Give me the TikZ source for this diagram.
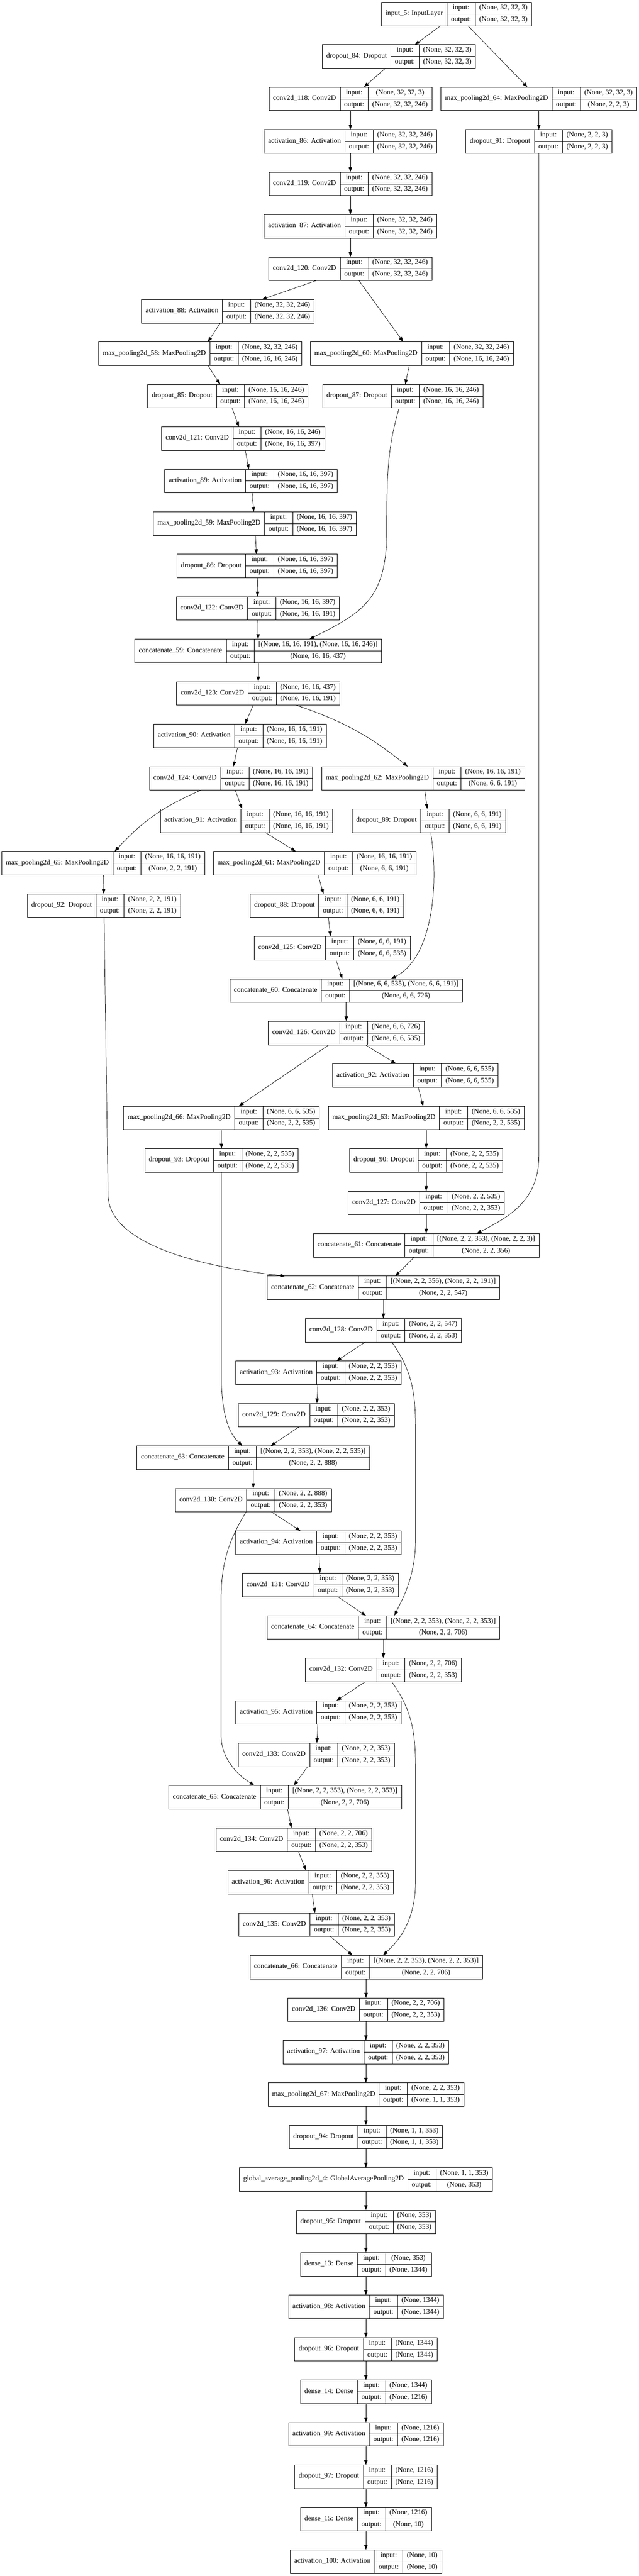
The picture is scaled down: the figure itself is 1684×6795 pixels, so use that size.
\documentclass[tikz,border=0pt]{standalone}
\usepackage{fontspec}
\setmainfont{Liberation Serif}
\usetikzlibrary{arrows.meta}

\newbox\namebox
\newbox\labelbox
\newbox\inbox
\newbox\outbox
\newcommand\recfont{\fontsize{18.67pt}{22.4pt}\selectfont}
% one Keras layer: name, x, row, label, input shape, output shape
\newcommand\layer[6]{%
  \pgfinterruptpicture
    \global\setbox\namebox=\hbox{\recfont #4}%
    \global\setbox\labelbox=\hbox{\recfont output:}%
    \global\setbox\inbox=\hbox{\recfont #5}%
    \global\setbox\outbox=\hbox{\recfont #6}%
  \endpgfinterruptpicture
  \edef\nw{\the\dimexpr\wd\namebox+21.33pt\relax}%
  \edef\lw{\the\dimexpr\wd\labelbox+21.33pt\relax}%
  \ifdim\wd\inbox>\wd\outbox
    \edef\sw{\the\dimexpr\wd\inbox+21.33pt\relax}%
  \else
    \edef\sw{\the\dimexpr\wd\outbox+21.33pt\relax}%
  \fi
  \node[record, minimum width=\nw+\lw+\sw] (#1) at (#2,{-37-112*#3}) {};
  \draw[divider] ([xshift=\nw]#1.north west) -- ([xshift=\nw]#1.south west)
    ([xshift=\nw+\lw]#1.north west) -- ([xshift=\nw+\lw]#1.south west)
    ([xshift=\nw]#1.west) -- (#1.east);
  \node[celltext] at ([xshift=0.5*\nw]#1.west) {#4};
  \node[celltext] at ([xshift=\nw+0.5*\lw, yshift=15.5]#1.west) {input:};
  \node[celltext] at ([xshift=\nw+0.5*\lw, yshift=-15.5]#1.west) {output:};
  \node[celltext] at ([xshift=\nw+\lw+0.5*\sw, yshift=15.5]#1.west) {#5};
  \node[celltext] at ([xshift=\nw+\lw+0.5*\sw, yshift=-15.5]#1.west) {#6};
}

\begin{document}
\begin{tikzpicture}[x=1pt, y=1pt,
  record/.style={draw, line width=1pt, minimum height=62pt, inner sep=0pt, outer sep=0pt},
  divider/.style={line width=1pt},
  celltext/.style={font=\recfont, inner sep=0pt, text height=12pt, text depth=5pt},
  flow/.style={line width=1pt, -{Triangle[length=13pt, width=9pt]}}]
\useasboundingbox (0,0) rectangle (1684,-6795);

\layer{in5}{1204}{0}{input\_5: InputLayer}{(None, 32, 32, 3)}{(None, 32, 32, 3)}
\layer{do84}{1052}{1}{dropout\_84: Dropout}{(None, 32, 32, 3)}{(None, 32, 32, 3)}
\layer{c118}{924}{2}{conv2d\_118: Conv2D}{(None, 32, 32, 3)}{(None, 32, 32, 246)}
\layer{mp64}{1421}{2}{max\_pooling2d\_64: MaxPooling2D}{(None, 32, 32, 3)}{(None, 2, 2, 3)}
\layer{a86}{924}{3}{activation\_86: Activation}{(None, 32, 32, 246)}{(None, 32, 32, 246)}
\layer{do91}{1421}{3}{dropout\_91: Dropout}{(None, 2, 2, 3)}{(None, 2, 2, 3)}
\layer{c119}{924}{4}{conv2d\_119: Conv2D}{(None, 32, 32, 246)}{(None, 32, 32, 246)}
\layer{a87}{924}{5}{activation\_87: Activation}{(None, 32, 32, 246)}{(None, 32, 32, 246)}
\layer{c120}{924}{6}{conv2d\_120: Conv2D}{(None, 32, 32, 246)}{(None, 32, 32, 246)}
\layer{a88}{601}{7}{activation\_88: Activation}{(None, 32, 32, 246)}{(None, 32, 32, 246)}
\layer{mp58}{528}{8}{max\_pooling2d\_58: MaxPooling2D}{(None, 32, 32, 246)}{(None, 16, 16, 246)}
\layer{mp60}{1086}{8}{max\_pooling2d\_60: MaxPooling2D}{(None, 32, 32, 246)}{(None, 16, 16, 246)}
\layer{do85}{601}{9}{dropout\_85: Dropout}{(None, 16, 16, 246)}{(None, 16, 16, 246)}
\layer{do87}{1062}{9}{dropout\_87: Dropout}{(None, 16, 16, 246)}{(None, 16, 16, 246)}
\layer{c121}{641}{10}{conv2d\_121: Conv2D}{(None, 16, 16, 246)}{(None, 16, 16, 397)}
\layer{a89}{662}{11}{activation\_89: Activation}{(None, 16, 16, 397)}{(None, 16, 16, 397)}
\layer{mp59}{672}{12}{max\_pooling2d\_59: MaxPooling2D}{(None, 16, 16, 397)}{(None, 16, 16, 397)}
\layer{do86}{678}{13}{dropout\_86: Dropout}{(None, 16, 16, 397)}{(None, 16, 16, 397)}
\layer{c122}{680}{14}{conv2d\_122: Conv2D}{(None, 16, 16, 397)}{(None, 16, 16, 191)}
\layer{cat59}{681}{15}{concatenate\_59: Concatenate}{[(None, 16, 16, 191), (None, 16, 16, 246)]}{(None, 16, 16, 437)}
\layer{c123}{681}{16}{conv2d\_123: Conv2D}{(None, 16, 16, 437)}{(None, 16, 16, 191)}
\layer{a90}{633}{17}{activation\_90: Activation}{(None, 16, 16, 191)}{(None, 16, 16, 191)}
\layer{c124}{609}{18}{conv2d\_124: Conv2D}{(None, 16, 16, 191)}{(None, 16, 16, 191)}
\layer{mp62}{1116}{18}{max\_pooling2d\_62: MaxPooling2D}{(None, 16, 16, 191)}{(None, 6, 6, 191)}
\layer{a91}{650}{19}{activation\_91: Activation}{(None, 16, 16, 191)}{(None, 16, 16, 191)}
\layer{do89}{1131}{19}{dropout\_89: Dropout}{(None, 6, 6, 191)}{(None, 6, 6, 191)}
\layer{mp65}{272}{20}{max\_pooling2d\_65: MaxPooling2D}{(None, 16, 16, 191)}{(None, 2, 2, 191)}
\layer{mp61}{830}{20}{max\_pooling2d\_61: MaxPooling2D}{(None, 16, 16, 191)}{(None, 6, 6, 191)}
\layer{do92}{274}{21}{dropout\_92: Dropout}{(None, 2, 2, 191)}{(None, 2, 2, 191)}
\layer{do88}{862}{21}{dropout\_88: Dropout}{(None, 6, 6, 191)}{(None, 6, 6, 191)}
\layer{c125}{876}{22}{conv2d\_125: Conv2D}{(None, 6, 6, 191)}{(None, 6, 6, 535)}
\layer{cat60}{913}{23}{concatenate\_60: Concatenate}{[(None, 6, 6, 535), (None, 6, 6, 191)]}{(None, 6, 6, 726)}
\layer{c126}{913}{24}{conv2d\_126: Conv2D}{(None, 6, 6, 726)}{(None, 6, 6, 535)}
\layer{a92}{1095}{25}{activation\_92: Activation}{(None, 6, 6, 535)}{(None, 6, 6, 535)}
\layer{mp66}{584}{26}{max\_pooling2d\_66: MaxPooling2D}{(None, 6, 6, 535)}{(None, 2, 2, 535)}
\layer{mp63}{1124}{26}{max\_pooling2d\_63: MaxPooling2D}{(None, 6, 6, 535)}{(None, 2, 2, 535)}
\layer{do93}{584}{27}{dropout\_93: Dropout}{(None, 2, 2, 535)}{(None, 2, 2, 535)}
\layer{do90}{1124}{27}{dropout\_90: Dropout}{(None, 2, 2, 535)}{(None, 2, 2, 535)}
\layer{c127}{1124}{28}{conv2d\_127: Conv2D}{(None, 2, 2, 535)}{(None, 2, 2, 353)}
\layer{cat61}{1124}{29}{concatenate\_61: Concatenate}{[(None, 2, 2, 353), (None, 2, 2, 3)]}{(None, 2, 2, 356)}
\layer{cat62}{1011}{30}{concatenate\_62: Concatenate}{[(None, 2, 2, 356), (None, 2, 2, 191)]}{(None, 2, 2, 547)}
\layer{c128}{1011}{31}{conv2d\_128: Conv2D}{(None, 2, 2, 547)}{(None, 2, 2, 353)}
\layer{a93}{840}{32}{activation\_93: Activation}{(None, 2, 2, 353)}{(None, 2, 2, 353)}
\layer{c129}{834}{33}{conv2d\_129: Conv2D}{(None, 2, 2, 353)}{(None, 2, 2, 353)}
\layer{cat63}{668}{34}{concatenate\_63: Concatenate}{[(None, 2, 2, 353), (None, 2, 2, 535)]}{(None, 2, 2, 888)}
\layer{c130}{668}{35}{conv2d\_130: Conv2D}{(None, 2, 2, 888)}{(None, 2, 2, 353)}
\layer{a94}{840}{36}{activation\_94: Activation}{(None, 2, 2, 353)}{(None, 2, 2, 353)}
\layer{c131}{845}{37}{conv2d\_131: Conv2D}{(None, 2, 2, 353)}{(None, 2, 2, 353)}
\layer{cat64}{1011}{38}{concatenate\_64: Concatenate}{[(None, 2, 2, 353), (None, 2, 2, 353)]}{(None, 2, 2, 706)}
\layer{c132}{1011}{39}{conv2d\_132: Conv2D}{(None, 2, 2, 706)}{(None, 2, 2, 353)}
\layer{a95}{840}{40}{activation\_95: Activation}{(None, 2, 2, 353)}{(None, 2, 2, 353)}
\layer{c133}{834}{41}{conv2d\_133: Conv2D}{(None, 2, 2, 353)}{(None, 2, 2, 353)}
\layer{cat65}{752}{42}{concatenate\_65: Concatenate}{[(None, 2, 2, 353), (None, 2, 2, 353)]}{(None, 2, 2, 706)}
\layer{c134}{775}{43}{conv2d\_134: Conv2D}{(None, 2, 2, 706)}{(None, 2, 2, 353)}
\layer{a96}{819}{44}{activation\_96: Activation}{(None, 2, 2, 353)}{(None, 2, 2, 353)}
\layer{c135}{835}{45}{conv2d\_135: Conv2D}{(None, 2, 2, 353)}{(None, 2, 2, 353)}
\layer{cat66}{966}{46}{concatenate\_66: Concatenate}{[(None, 2, 2, 353), (None, 2, 2, 353)]}{(None, 2, 2, 706)}
\layer{c136}{965}{47}{conv2d\_136: Conv2D}{(None, 2, 2, 706)}{(None, 2, 2, 353)}
\layer{a97}{965}{48}{activation\_97: Activation}{(None, 2, 2, 353)}{(None, 2, 2, 353)}
\layer{mp67}{965}{49}{max\_pooling2d\_67: MaxPooling2D}{(None, 2, 2, 353)}{(None, 1, 1, 353)}
\layer{do94}{965}{50}{dropout\_94: Dropout}{(None, 1, 1, 353)}{(None, 1, 1, 353)}
\layer{gap4}{965}{51}{global\_average\_pooling2d\_4: GlobalAveragePooling2D}{(None, 1, 1, 353)}{(None, 353)}
\layer{do95}{965}{52}{dropout\_95: Dropout}{(None, 353)}{(None, 353)}
\layer{d13}{965}{53}{dense\_13: Dense}{(None, 353)}{(None, 1344)}
\layer{a98}{965}{54}{activation\_98: Activation}{(None, 1344)}{(None, 1344)}
\layer{do96}{965}{55}{dropout\_96: Dropout}{(None, 1344)}{(None, 1344)}
\layer{d14}{965}{56}{dense\_14: Dense}{(None, 1344)}{(None, 1216)}
\layer{a99}{965}{57}{activation\_99: Activation}{(None, 1216)}{(None, 1216)}
\layer{do97}{965}{58}{dropout\_97: Dropout}{(None, 1216)}{(None, 1216)}
\layer{d15}{965}{59}{dense\_15: Dense}{(None, 1216)}{(None, 10)}
\layer{a100}{965}{60}{activation\_100: Activation}{(None, 10)}{(None, 10)}

\foreach \a/\b in {in5/do84, in5/mp64, do84/c118, c118/a86, a86/c119, c119/a87,
    a87/c120, mp64/do91, c120/a88, c120/mp60, a88/mp58, mp58/do85, do85/c121,
    c121/a89, a89/mp59, mp59/do86, do86/c122, c122/cat59, mp60/do87, cat59/c123,
    c123/a90, a90/c124, c124/a91, a91/mp61, mp61/do88, do88/c125, c125/cat60,
    mp62/do89, mp65/do92, cat60/c126, c126/mp66, c126/a92, a92/mp63, mp63/do90,
    do90/c127, c127/cat61, mp66/do93, cat61/cat62, cat62/c128, c128/a93, a93/c129,
    c129/cat63, cat63/c130, c130/a94, a94/c131, c131/cat64, cat64/c132, c132/a95,
    a95/c133, c133/cat65, cat65/c134, c134/a96, a96/c135, c135/cat66, cat66/c136,
    c136/a97, a97/mp67, mp67/do94, do94/gap4, gap4/do95, do95/d13, d13/a98,
    a98/do96, do96/d14, d14/a99, a99/do97, do97/d15, d15/a100}
  \draw[flow] (\a) -- (\b);

\draw[flow] (c123) to[bend left=10] (mp62);
\draw[flow] (c124) to[bend right=12] (mp65);
\draw[flow] (do87) .. controls (1022,-1180) and (1020,-1250) .. (1020,-1400)
  .. controls (1020,-1580) and (956,-1616) .. ([xshift=135]cat59.north);
\draw[flow] (do89) .. controls (1160,-2350) and (1135,-2530) .. ([xshift=118]cat60.north);
\draw[flow] (do91) -- (1421,-3050) .. controls (1421,-3170) and (1337,-3212) .. ([xshift=133]cat61.north);
\draw[flow] (do92) -- (285,-3150) .. controls (285,-3290) and (560,-3345) .. ([xshift=-259]cat62.north);
\draw[flow] (do93) -- (584,-3650) .. controls (588,-3760) and (615,-3790) .. ([xshift=-29]cat63.north);
\draw[flow] (c128) .. controls (1090,-3620) and (1096,-3680) .. (1096,-3780) -- (1096,-4060)
  .. controls (1096,-4160) and (1060,-4220) .. ([xshift=29]cat64.north);
\draw[flow] (c130) .. controls (605,-4060) and (583,-4120) .. (583,-4220) -- (583,-4580)
  .. controls (585,-4650) and (640,-4690) .. ([xshift=-81]cat65.north);
\draw[flow] (c132) .. controls (1090,-4516) and (1096,-4576) .. (1096,-4676) -- (1096,-4960)
  .. controls (1096,-5070) and (1050,-5120) .. ([xshift=44]cat66.north);
\end{tikzpicture}
\end{document}
